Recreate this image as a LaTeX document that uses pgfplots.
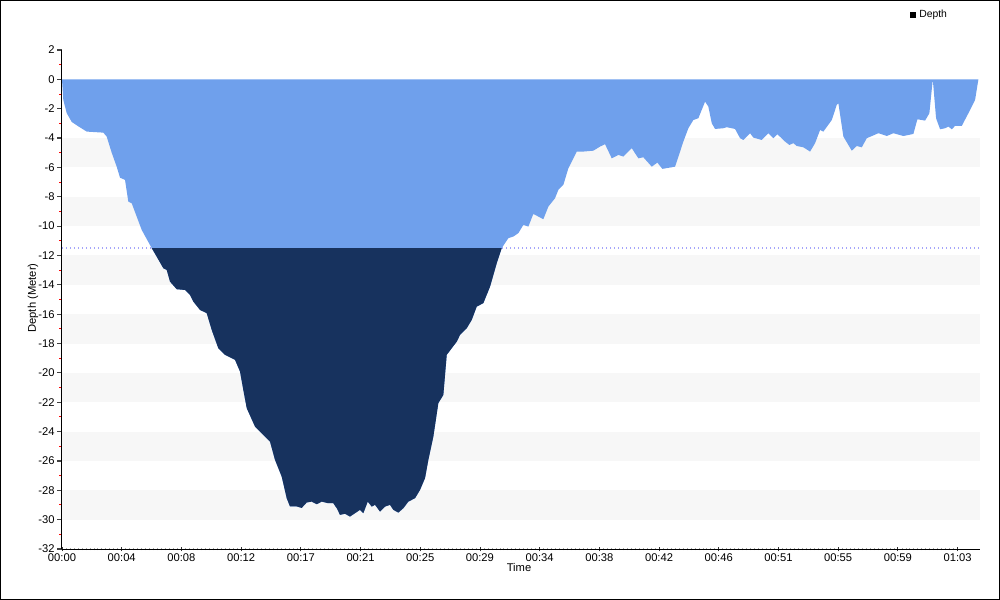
\documentclass[border=0pt]{standalone}
\usepackage{fontspec}
\setmainfont{Liberation Sans}
\usepackage{pgfplots}
\pgfplotsset{compat=1.18}
\definecolor{lblue}{RGB}{111,160,236}
\definecolor{navy}{RGB}{23,50,94}
\definecolor{band}{RGB}{247,247,247}
\definecolor{thr}{RGB}{165,165,250}
\pgfplotstableread{
t d
0 0
0.093 -1.4
0.335 -2.3
0.692 -2.9
1.163 -3.2
1.763 -3.56
2.947 -3.63
3.190 -3.9
3.547 -5.0
3.903 -5.95
4.139 -6.7
4.496 -6.85
4.731 -8.33
4.974 -8.44
5.330 -9.35
5.687 -10.26
6.401 -11.5
6.758 -12.08
7.229 -12.87
7.471 -12.98
7.707 -13.78
8.185 -14.3
8.777 -14.35
9.134 -14.69
9.369 -15.14
9.847 -15.71
10.325 -15.93
10.682 -17.07
11.153 -18.32
11.631 -18.77
12.345 -19.11
12.702 -19.91
12.937 -21.16
13.180 -22.4
13.772 -23.66
14.364 -24.22
14.842 -24.68
15.199 -25.93
15.677 -27.07
16.034 -28.54
16.269 -29.1
16.748 -29.1
17.104 -29.2
17.461 -28.83
17.818 -28.77
18.175 -28.95
18.532 -28.77
19.003 -28.88
19.360 -28.88
19.602 -29.22
19.837 -29.67
20.194 -29.6
20.551 -29.79
20.908 -29.56
21.264 -29.33
21.500 -29.56
21.814 -28.77
22.099 -29.11
22.335 -28.99
22.692 -29.45
23.048 -29.11
23.405 -28.99
23.641 -29.33
23.998 -29.52
24.355 -29.22
24.711 -28.77
25.189 -28.54
25.546 -27.97
25.903 -27.17
26.139 -25.93
26.496 -24.34
26.852 -22.06
27.209 -21.5
27.451 -18.77
27.808 -18.32
28.165 -17.87
28.400 -17.41
28.878 -16.96
29.235 -16.39
29.592 -15.48
30.063 -15.25
30.541 -14.12
31.019 -12.53
31.376 -11.5
31.847 -10.82
32.204 -10.71
32.561 -10.48
32.917 -9.92
33.274 -10.03
33.631 -9.17
33.988 -9.35
34.345 -9.53
34.702 -8.67
35.179 -8.1
35.415 -7.53
35.772 -7.19
36.129 -6.06
36.728 -4.92
37.199 -4.92
37.913 -4.86
38.390 -4.58
38.747 -4.42
39.225 -5.38
39.696 -5.15
40.053 -5.26
40.652 -4.69
41.124 -5.38
41.480 -5.31
42.080 -5.95
42.479 -5.67
42.836 -6.1
43.742 -5.95
44.335 -4.24
44.691 -3.33
45.048 -2.77
45.405 -2.65
45.883 -1.52
46.118 -1.86
46.361 -2.99
46.596 -3.38
47.189 -3.33
47.431 -3.26
48.023 -3.38
48.380 -4.01
48.616 -4.13
49.094 -3.67
49.329 -3.97
49.929 -4.13
50.400 -3.67
50.757 -4.01
51.042 -3.74
51.591 -4.24
51.898 -4.47
52.184 -4.35
52.426 -4.54
52.898 -4.63
53.375 -4.92
53.732 -4.35
54.089 -3.45
54.324 -3.56
54.924 -2.77
55.280 -1.74
55.395 -1.63
55.752 -3.9
56.351 -4.86
56.708 -4.54
57.065 -4.63
57.422 -4.01
58.250 -3.67
58.849 -3.86
59.320 -3.67
60.034 -3.86
60.747 -3.72
61.033 -2.72
61.581 -2.81
61.888 -2.31
62.131 0
62.366 -2.65
62.652 -3.4
63.008 -3.33
63.244 -3.22
63.487 -3.4
63.722 -3.17
64.200 -3.17
64.671 -2.31
65.149 -1.4
65.385 0
}\profile
\pgfplotstableread{
t d
6.401 -11.5
6.758 -12.08
7.229 -12.87
7.471 -12.98
7.707 -13.78
8.185 -14.3
8.777 -14.35
9.134 -14.69
9.369 -15.14
9.847 -15.71
10.325 -15.93
10.682 -17.07
11.153 -18.32
11.631 -18.77
12.345 -19.11
12.702 -19.91
12.937 -21.16
13.180 -22.4
13.772 -23.66
14.364 -24.22
14.842 -24.68
15.199 -25.93
15.677 -27.07
16.034 -28.54
16.269 -29.1
16.748 -29.1
17.104 -29.2
17.461 -28.83
17.818 -28.77
18.175 -28.95
18.532 -28.77
19.003 -28.88
19.360 -28.88
19.602 -29.22
19.837 -29.67
20.194 -29.6
20.551 -29.79
20.908 -29.56
21.264 -29.33
21.500 -29.56
21.814 -28.77
22.099 -29.11
22.335 -28.99
22.692 -29.45
23.048 -29.11
23.405 -28.99
23.641 -29.33
23.998 -29.52
24.355 -29.22
24.711 -28.77
25.189 -28.54
25.546 -27.97
25.903 -27.17
26.139 -25.93
26.496 -24.34
26.852 -22.06
27.209 -21.5
27.451 -18.77
27.808 -18.32
28.165 -17.87
28.400 -17.41
28.878 -16.96
29.235 -16.39
29.592 -15.48
30.063 -15.25
30.541 -14.12
31.019 -12.53
31.376 -11.5
}\deep
\begin{document}
\begin{tikzpicture}
\begin{axis}[
  scale only axis, width=688.5pt, height=374.25pt,
  xmin=0, xmax=65.5, ymin=-32, ymax=2,
  axis x line*=bottom, axis y line*=left,
  axis line style={-, black, line width=0.75pt},
  xtick={0,4.26,8.52,12.78,17.04,21.30,25.56,29.82,34.08,38.34,42.60,46.86,51.12,55.38,59.64,63.90},
  xticklabels={00:00,00:04,00:08,00:12,00:17,00:21,00:25,00:29,00:34,00:38,00:42,00:46,00:51,00:55,00:59,01:03},
  minor x tick num=14,
  ytick={-32,-30,-28,-26,-24,-22,-20,-18,-16,-14,-12,-10,-8,-6,-4,-2,0,2},
  yticklabels={-32,-30,-28,-26,-24,-22,-20,-18,-16,-14,-12,-10,-8,-6,-4,-2,0,2},
  minor y tick num=1,
  xtick align=center, ytick align=outside,
  major tick length=3.5pt, minor tick length=2pt,
  x tick style={black!80, line width=0.6pt},
  minor x tick style={black!35, line width=0.5pt},
  y tick style={black!75, line width=0.9pt},
  minor y tick style={red, line width=0.75pt},
  tick label style={font=\fontsize{8.4}{9}\selectfont},
  xticklabel style={yshift=2pt},
  yticklabel style={xshift=1.5pt},
  clip=false,
]
\foreach \b in {-4,-8,-12,-16,-20,-24,-28}{
  \edef\tmp{\noexpand\fill[band] (axis cs:0,\b) rectangle (axis cs:65.5,\b-2);}\tmp
}
\draw[thr, dotted, line width=1pt] (axis cs:0,-11.5) -- (axis cs:65.5,-11.5);
\addplot[fill=lblue, draw=none] table[x=t,y=d] {\profile} -- cycle;
\addplot[fill=navy, draw=none] table[x=t,y=d] {\deep} -- cycle;
\coordinate (O) at (rel axis cs:0,0);
\end{axis}
\begin{scope}[shift={(O)}, x=0.75pt, y=0.75pt]
\draw[line width=0.75pt] (-61.5,-50.5) rectangle (937.5,548.5);
\node[rotate=90, font=\fontsize{8.4}{9}\selectfont] at (-29,251) {Depth (Meter)};
\node[font=\fontsize{8.4}{9}\selectfont] at (457,-18) {Time};
\fill[black] (848,531) rectangle (854,537);
\node[anchor=west, font=\fontsize{7.8}{9}\selectfont, inner sep=0pt] at (857,534) {Depth};
\end{scope}
\end{tikzpicture}
\end{document}
